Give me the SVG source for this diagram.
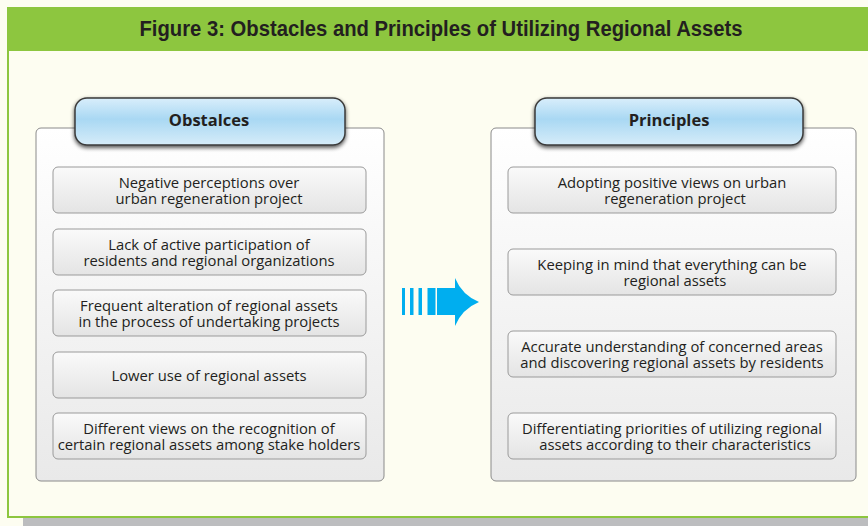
<svg xmlns="http://www.w3.org/2000/svg" width="868" height="526" viewBox="0 0 868 526">
  <style>
    .title { font-family: "Liberation Sans", Arial, sans-serif; font-weight: bold; font-size: 22px; fill: #231f20; }
    .head { font-family: "Open Sans", "Noto Sans", sans-serif; font-weight: bold; font-size: 16.5px; fill: #231f20; }
    .item { font-family: "Open Sans", "Noto Sans", sans-serif; font-size: 14.8px; fill: #231f20; }
    .panel { fill: url(#panelGrad); stroke: #8a8a8a; stroke-width: 1; }
    .box { fill: url(#boxGrad); stroke: #9a9a9a; stroke-width: 1; }
    .tab { fill: url(#tabGrad); stroke: #3a3a3a; stroke-width: 1.5; }
  </style>
  <defs>
    <linearGradient id="panelGrad" x1="0" y1="0" x2="0" y2="1">
      <stop offset="0" stop-color="#ffffff"/>
      <stop offset="1" stop-color="#e9e9e9"/>
    </linearGradient>
    <linearGradient id="boxGrad" x1="0" y1="0" x2="0" y2="1">
      <stop offset="0" stop-color="#fafafa"/>
      <stop offset="1" stop-color="#e4e4e4"/>
    </linearGradient>
    <linearGradient id="tabGrad" x1="0" y1="0" x2="0" y2="1">
      <stop offset="0" stop-color="#d9eefb"/>
      <stop offset="0.45" stop-color="#a9d8f3"/>
      <stop offset="1" stop-color="#d6ecf9"/>
    </linearGradient>
    <filter id="tabShadow" x="-10%" y="-20%" width="120%" height="150%">
      <feGaussianBlur in="SourceAlpha" stdDeviation="2"/>
      <feOffset dx="0" dy="2" result="b"/>
      <feComponentTransfer><feFuncA type="linear" slope="0.7"/></feComponentTransfer>
      <feMerge><feMergeNode/><feMergeNode in="SourceGraphic"/></feMerge>
    </filter>
  </defs>

  <!-- page background -->
  <rect x="0" y="0" width="868" height="526" fill="#fdfdf1"/>

  <!-- frame with drop shadow -->
  <rect x="23" y="518" width="845" height="8" fill="#bcbdbf"/>
  <rect x="8" y="50" width="862" height="467" fill="#fdfdf1" stroke="#8dc63f" stroke-width="2"/>

  <!-- title bar -->
  <g id="title">
    <rect x="7" y="7" width="861" height="44" fill="#8dc63f"/>
    <text class="title" x="441" y="36" text-anchor="middle" textLength="603" lengthAdjust="spacingAndGlyphs">Figure 3: Obstacles and Principles of Utilizing Regional Assets</text>
  </g>

  <!-- Obstacles panel -->
  <g id="obstacles">
    <rect class="panel" x="36" y="128" width="348" height="353" rx="5"/>
    <g id="obstacles-header" filter="url(#tabShadow)">
      <rect class="tab" x="75" y="98" width="270" height="47" rx="12"/>
    </g>
    <text class="head" x="209" y="126" text-anchor="middle">Obstalces</text>
  </g>

  <g id="obs-1">
    <rect class="box" x="53" y="167" width="313" height="46" rx="5"/>
    <text class="item" text-anchor="middle"><tspan x="209" y="188">Negative perceptions over</tspan><tspan x="209" y="204">urban regeneration project</tspan></text>
  </g>
  <g id="obs-2">
    <rect class="box" x="53" y="229" width="313" height="46" rx="5"/>
    <text class="item" text-anchor="middle"><tspan x="209" y="250">Lack of active participation of</tspan><tspan x="209" y="266">residents and regional organizations</tspan></text>
  </g>
  <g id="obs-3">
    <rect class="box" x="53" y="290" width="313" height="46" rx="5"/>
    <text class="item" text-anchor="middle"><tspan x="209" y="311">Frequent alteration of regional assets</tspan><tspan x="209" y="327">in the process of undertaking projects</tspan></text>
  </g>
  <g id="obs-4">
    <rect class="box" x="53" y="352" width="313" height="46" rx="5"/>
    <text class="item" x="209" y="381" text-anchor="middle">Lower use of regional assets</text>
  </g>
  <g id="obs-5">
    <rect class="box" x="53" y="413" width="313" height="46" rx="5"/>
    <text class="item" text-anchor="middle"><tspan x="209" y="434">Different views on the recognition of</tspan><tspan x="209" y="450">certain regional assets among stake holders</tspan></text>
  </g>

  <!-- Principles panel -->
  <g id="principles">
    <rect class="panel" x="491" y="128" width="365" height="353" rx="5"/>
    <g id="principles-header" filter="url(#tabShadow)">
      <rect class="tab" x="535" y="98" width="268" height="47" rx="12"/>
    </g>
    <text class="head" x="669" y="126" text-anchor="middle">Principles</text>
  </g>

  <g id="pri-1">
    <rect class="box" x="508" y="167" width="328" height="46" rx="5"/>
    <text class="item" text-anchor="middle"><tspan x="672" y="188">Adopting positive views on  urban</tspan><tspan x="675" y="204">regeneration project</tspan></text>
  </g>
  <g id="pri-2">
    <rect class="box" x="508" y="249" width="328" height="46" rx="5"/>
    <text class="item" text-anchor="middle"><tspan x="672" y="270">Keeping in mind that everything can be</tspan><tspan x="675" y="286">regional assets</tspan></text>
  </g>
  <g id="pri-3">
    <rect class="box" x="508" y="331" width="328" height="46" rx="5"/>
    <text class="item" text-anchor="middle"><tspan x="672" y="352">Accurate understanding of concerned areas</tspan><tspan x="672" y="368">and discovering regional assets by residents</tspan></text>
  </g>
  <g id="pri-4">
    <rect class="box" x="508" y="413" width="328" height="46" rx="5"/>
    <text class="item" text-anchor="middle"><tspan x="672" y="434">Differentiating priorities of utilizing regional</tspan><tspan x="675" y="450">assets according to their characteristics</tspan></text>
  </g>

  <!-- connector: striped arrow from obstacles to principles -->
  <g id="connectors" fill="#00aeef">
    <rect x="402" y="288" width="3" height="27"/>
    <rect x="410" y="288" width="3.5" height="27"/>
    <rect x="418.5" y="288" width="3.5" height="27"/>
    <rect x="427.5" y="288" width="8" height="27"/>
    <path d="M437 288 H455 L455 278 Q462 295 479 302 Q462 309 455 326 L455 315 H437 Z"/>
  </g>
</svg>
